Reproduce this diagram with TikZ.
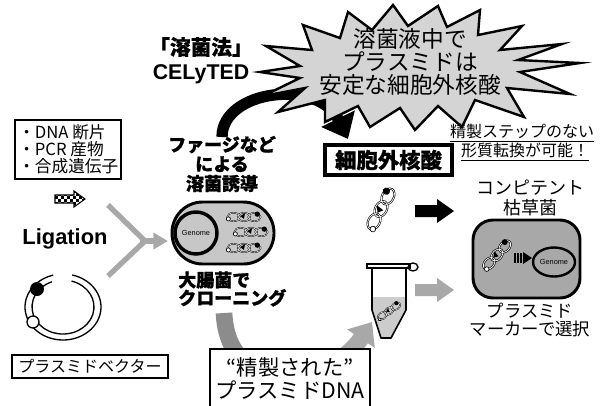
\documentclass[tikz,border=0pt]{standalone}
\usepackage{fontspec}
\setmainfont{Liberation Sans}
\newfontfamily\jp{Noto Sans CJK JP}[BoldFeatures={FakeBold=1}]
\usetikzlibrary{arrows.meta}
\newcommand\sz[2]{\fontsize{#1}{#2}\selectfont}
\definecolor{burstgray}{gray}{0.83}
\definecolor{ecoligray}{gray}{0.78}
\definecolor{bsubgray}{gray}{0.66}
\definecolor{flowgray}{gray}{0.66}
\definecolor{flowdark}{gray}{0.55}
\definecolor{liquid}{gray}{0.80}

\tikzset{
  coil line/.style={line width=1.5pt},
  coil gap/.style={line width=0.55pt},
  % twisted (supercoiled) plasmid: three linked loops along the local x axis
  supercoil/.pic={
    \foreach \cx in {-11,0,11}{\draw[black, coil line] (\cx,0) ellipse[x radius=6.5, y radius=4.5];}
    \foreach \cx in {-11,0,11}{\draw[white, coil gap] (\cx,0) ellipse[x radius=6.5, y radius=4.5];}
    \fill[black] (14,-3) circle[radius=2.8];
    \filldraw[fill=white, draw=black, line width=0.5pt] (-16.5,2) circle[radius=2.2];
    \fill[black] (-4,-1) -- (1,-4) -- (0,2) -- cycle;
  },
  lbl/.style={inner sep=0pt, align=center},
}

\begin{document}
\begin{tikzpicture}[x=0.75pt,y=-0.75pt]
\useasboundingbox (0,0) rectangle (600,405);

% curved black arrow from the lysis method into the extracellular DNA box
\draw[line width=8.5pt, -{Triangle[width=27pt,length=17pt]}]
  (222,137) .. controls (222,90) and (318,78) .. (348,139);

% starburst
\filldraw[fill=burstgray, line width=1.8pt, line join=miter, miter limit=20]
  (260,72) -- (300,66) -- (266,46) -- (312,50) -- (303,25) -- (340,38) --
  (348,12) -- (372,30) -- (393,5) -- (408,26) -- (438,6) -- (447,27) --
  (480,10) -- (478,35) -- (522,26) -- (500,50) -- (562,44) -- (518,60) --
  (580,63) -- (520,72) -- (570,94) -- (507,88) -- (524,117) -- (475,100) --
  (462,127) -- (438,106) -- (415,130) -- (400,108) -- (370,127) -- (358,106) --
  (325,122) -- (325,100) -- (278,112) -- (305,88) -- (263,96) -- (300,78) -- cycle;
\node[lbl, font=\jp\sz{17}{17.3}] (burst) at (410,62) {溶菌液中で\\プラスミドは\\安定な細胞外核酸};

% method title
\node[lbl, font=\jp\bfseries\sz{15.5}{18}] (title) at (201,47) {「溶菌法」};
\node[lbl, font=\bfseries\sz{16}{18}] (cely) at (201,74) {CELyTED};

% DNA sources
\draw[line width=1.2pt] (15,120) rectangle (121,179);
\node[lbl, align=left, anchor=north west, font=\jp\sz{12.5}{13}] (src) at (18,124)
  {・DNA 断片\\・PCR 産物\\・合成遺伝子};

% checkered arrow
\begin{scope}
  \clip (55,195) -- (74,195) -- (74,191) -- (85,199) -- (74,207) -- (74,203) -- (55,203) -- cycle;
  \foreach \i in {0,2,...,10}{\foreach \j in {0,2,...,6}{
    \fill ({55+\i*3},{190+\j*3}) rectangle ++(3,3);
    \fill ({58+\i*3},{193+\j*3}) rectangle ++(3,3);}}
\end{scope}
\draw[line width=0.8pt]
  (55,195) -- (74,195) -- (74,191) -- (85,199) -- (74,207) -- (74,203) -- (55,203) -- cycle;

\node[lbl, font=\bfseries\sz{16.4}{18}] (lig) at (65,239) {Ligation};

% joining arrow into E. coli
\draw[flowgray, line width=4pt, line join=miter] (108,205) -- (145,241) -- (108,276);
\draw[flowgray, line width=4pt, -{Triangle[width=12pt,length=11pt]}] (140,241) -- (168,241);

% plasmid vector
\draw[line width=1pt] (63,307) ++(284:38 and 33) arc[start angle=284, end angle=615, x radius=38, y radius=33];
\draw[line width=1pt] (63,307) ++(286:31 and 27) arc[start angle=286, end angle=609, x radius=31, y radius=27];
\fill[black] (37,289) circle[radius=7];
\filldraw[fill=white, draw=black, line width=1pt] (33,322) circle[radius=6];
\draw[line width=1.2pt] (12,355) rectangle (168,378);
\node[lbl, font=\jp\sz{12}{14}] (vec) at (90,366.5) {プラスミドベクター};

% E. coli
\node[lbl, font=\jp\bfseries\sz{13.5}{14.6}] (phage) at (222,164) {ファージなど\\による\\溶菌誘導};
\filldraw[fill=ecoligray, line width=2.2pt, rounded corners=23pt] (172,202) rectangle (274,264);
\draw[line width=2.6pt] (196,233) circle[radius=21];
\node[lbl, font=\sz{5.5}{6}] (genome1) at (196,233) {Genome};
\begin{scope}[coil line/.style={line width=1.1pt}, coil gap/.style={line width=0.4pt}]
  \pic[scale=0.95] at (244,217) {supercoil};
  \pic[scale=0.95] at (251,232) {supercoil};
  \pic[scale=0.95] at (244,248) {supercoil};
\end{scope}
\node[lbl, align=left, anchor=west, font=\jp\bfseries\sz{13.5}{13.5}] (clone) at (178,289) {大腸菌で\\クローニング};

% purification route (curved grey arrow)
\begin{scope}
  \clip (0,300) rectangle (290,405);
  \draw[flowdark, line width=12.5pt] (224,313) .. controls (228,400) and (330,385) .. (372,322);
\end{scope}
\begin{scope}
  \clip (290,300) rectangle (420,405);
  \draw[flowgray, line width=12.5pt, -{Triangle[width=24pt,length=15pt]}] (224,313) .. controls (228,400) and (330,385) .. (372,322);
\end{scope}
\filldraw[fill=white, line width=1.2pt] (210,349) rectangle (370,412);
\node[lbl, font=\jp\sz{16}{17.3}] (pure) at (290,378.5) {“精製された”\\プラスミドDNA};

% extracellular DNA
\draw[line width=2.4pt] (325,145) rectangle (452,175);
\node[lbl, font=\jp\bfseries\sz{16}{18}] (exdna) at (388.5,160) {細胞外核酸};
\pic[rotate=61, scale=1.3] at (381,209) {supercoil};

\node[lbl, font=\jp\sz{12}{14}] (nopur) at (522,133) {\underline{精製ステップのない}};
\node[lbl, font=\jp\sz{12}{14}] (trans) at (525,152) {\underline{形質転換が可能！}};

% arrows into B. subtilis
\fill[black] (415,205) -- (437,205) -- (437,199) -- (454,211) -- (437,223) -- (437,217) -- (415,217) -- cycle;
\fill[flowgray] (415,284) -- (437,284) -- (437,278) -- (454,290) -- (437,302) -- (437,296) -- (415,296) -- cycle;

% tube
\fill[liquid] (372,297) -- (372,310) -- (381,338) -- (391,338) -- (406,310) -- (406,297) -- cycle;
\draw[line width=1.2pt, line join=round] (372,268) -- (372,310) -- (381,338) -- (391,338) -- (406,310) -- (406,268);
\filldraw[fill=white, line width=1.2pt] (367,264) rectangle (410,268);
\draw[line width=1pt] (413,267) ellipse[x radius=5, y radius=4];
\begin{scope}[coil line/.style={line width=1.1pt}, coil gap/.style={line width=0.4pt}]
  \pic[rotate=35, scale=0.75] at (389,311) {supercoil};
\end{scope}

% B. subtilis
\node[lbl, font=\jp\sz{13.5}{15}] (comp) at (530,198) {コンピテント\\枯草菌};
\filldraw[fill=bsubgray, line width=2.2pt, rounded corners=15pt] (473,220) rectangle (580,298);
\draw[line width=1.8pt] (554,262) ellipse[x radius=21, y radius=14.5];
\node[lbl, font=\sz{5.5}{6}] (genome2) at (554,262) {Genome};
\pic[rotate=47, scale=1.05] at (497,255) {supercoil};
\foreach \bx in {515,518,521}{\draw[line width=0.8pt] (\bx,253) -- (\bx,263);}
\fill (523,252) -- (532,258) -- (523,264) -- cycle;
\node[lbl, font=\jp\sz{13}{12.8}] (sel) at (530,320) {プラスミド\\マーカーで選択};
\end{tikzpicture}
\end{document}
